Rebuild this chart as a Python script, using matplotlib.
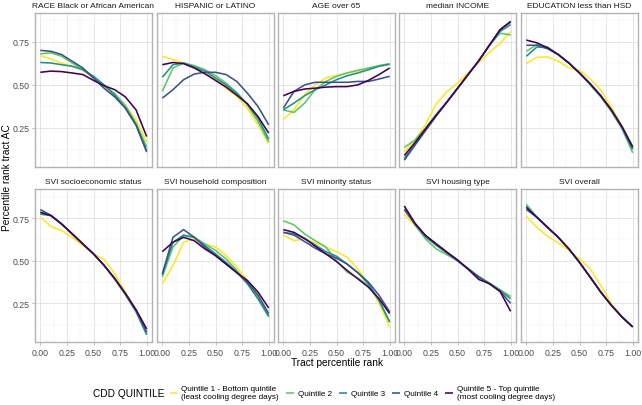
import matplotlib
matplotlib.use('Agg')
import matplotlib.pyplot as plt
from matplotlib.ticker import MultipleLocator

plt.rcParams['font.family'] = ['Liberation Sans', 'DejaVu Sans']

# tract percentile rank where each smoothed curve was read
x = [0.0, 0.1, 0.2, 0.3, 0.4, 0.5, 0.6, 0.7, 0.8, 0.9, 1.0]

quintiles = ['Quintile 1 - Bottom quintile\n(least cooling degree days)',
             'Quintile 2', 'Quintile 3', 'Quintile 4',
             'Quintile 5 - Top quintile\n(most cooling degree days)']
colors = ['#FDE725', '#5DC863', '#21908C', '#3B528B', '#440154']

titles = ['RACE Black or African American', 'HISPANIC or LATINO', 'AGE over 65',
          'median INCOME', 'EDUCATION less than HSD',
          'SVI socioeconomic status', 'SVI household composition',
          'SVI minority status', 'SVI housing type', 'SVI overall']

# each panel: one list per quintile (Q1 .. Q5)
race = [
    [0.67, 0.65, 0.627, 0.608, 0.585, 0.54, 0.49, 0.44, 0.38, 0.297, 0.17],
    [0.68, 0.686, 0.666, 0.627, 0.588, 0.54, 0.495, 0.45, 0.38, 0.277, 0.14],
    [0.63, 0.627, 0.617, 0.608, 0.588, 0.55, 0.50, 0.44, 0.365, 0.267, 0.12],
    [0.70, 0.695, 0.676, 0.637, 0.598, 0.54, 0.48, 0.43, 0.365, 0.267, 0.11],
    [0.573, 0.58, 0.577, 0.569, 0.56, 0.526, 0.495, 0.472, 0.43, 0.355, 0.20],
]
hispanic = [
    [0.666, 0.647, 0.627, 0.598, 0.565, 0.53, 0.48, 0.433, 0.365, 0.267, 0.16],
    [0.462, 0.598, 0.627, 0.612, 0.588, 0.554, 0.51, 0.456, 0.384, 0.287, 0.17],
    [0.544, 0.617, 0.627, 0.604, 0.58, 0.54, 0.50, 0.45, 0.39, 0.306, 0.185],
    [0.423, 0.472, 0.53, 0.563, 0.573, 0.573, 0.56, 0.52, 0.452, 0.374, 0.268],
    [0.617, 0.63, 0.623, 0.598, 0.565, 0.526, 0.487, 0.44, 0.39, 0.316, 0.22],
]
age = [
    [0.30, 0.355, 0.443, 0.50, 0.54, 0.553, 0.569, 0.579, 0.592, 0.608, 0.617],
    [0.355, 0.34, 0.394, 0.472, 0.52, 0.55, 0.569, 0.585, 0.598, 0.612, 0.623],
    [0.355, 0.394, 0.437, 0.472, 0.50, 0.53, 0.553, 0.569, 0.588, 0.608, 0.62],
    [0.365, 0.462, 0.50, 0.515, 0.515, 0.515, 0.515, 0.52, 0.52, 0.534, 0.55],
    [0.437, 0.462, 0.476, 0.481, 0.487, 0.49, 0.49, 0.50, 0.526, 0.56, 0.598],
]
income = [
    [0.11, 0.18, 0.27, 0.39, 0.46, 0.51, 0.57, 0.63, 0.69, 0.74, 0.81],
    [0.137, 0.18, 0.25, 0.33, 0.40, 0.48, 0.56, 0.64, 0.73, 0.80, 0.79],
    [0.073, 0.155, 0.24, 0.32, 0.40, 0.48, 0.56, 0.64, 0.73, 0.81, 0.85],
    [0.063, 0.15, 0.235, 0.32, 0.40, 0.48, 0.56, 0.64, 0.73, 0.82, 0.87],
    [0.09, 0.165, 0.245, 0.325, 0.40, 0.48, 0.56, 0.64, 0.73, 0.82, 0.865],
]
education = [
    [0.623, 0.66, 0.662, 0.637, 0.60, 0.585, 0.535, 0.47, 0.37, 0.26, 0.14],
    [0.695, 0.734, 0.72, 0.676, 0.627, 0.569, 0.50, 0.43, 0.345, 0.245, 0.106],
    [0.666, 0.72, 0.715, 0.676, 0.627, 0.569, 0.505, 0.435, 0.35, 0.25, 0.125],
    [0.73, 0.73, 0.71, 0.676, 0.627, 0.569, 0.507, 0.437, 0.355, 0.255, 0.135],
    [0.76, 0.744, 0.715, 0.676, 0.627, 0.569, 0.507, 0.437, 0.355, 0.258, 0.141],
]
socioeconomic = [
    [0.754, 0.70, 0.676, 0.637, 0.588, 0.54, 0.507, 0.423, 0.316, 0.21, 0.093],
    [0.787, 0.764, 0.715, 0.657, 0.598, 0.54, 0.472, 0.39, 0.30, 0.20, 0.067],
    [0.773, 0.764, 0.715, 0.657, 0.598, 0.54, 0.472, 0.394, 0.303, 0.203, 0.067],
    [0.80, 0.766, 0.715, 0.657, 0.598, 0.54, 0.472, 0.394, 0.306, 0.208, 0.083],
    [0.783, 0.764, 0.715, 0.657, 0.598, 0.54, 0.472, 0.396, 0.308, 0.213, 0.10],
]
household = [
    [0.365, 0.472, 0.608, 0.627, 0.598, 0.58, 0.53, 0.462, 0.384, 0.297, 0.18],
    [0.404, 0.58, 0.647, 0.637, 0.598, 0.56, 0.51, 0.443, 0.365, 0.277, 0.17],
    [0.417, 0.608, 0.65, 0.637, 0.588, 0.54, 0.49, 0.433, 0.365, 0.277, 0.176],
    [0.423, 0.637, 0.682, 0.637, 0.58, 0.53, 0.48, 0.43, 0.374, 0.297, 0.19],
    [0.553, 0.608, 0.637, 0.617, 0.569, 0.53, 0.48, 0.43, 0.384, 0.316, 0.223],
]
minority = [
    [0.65, 0.617, 0.627, 0.604, 0.58, 0.553, 0.52, 0.452, 0.365, 0.25, 0.112],
    [0.734, 0.71, 0.657, 0.617, 0.58, 0.50, 0.433, 0.398, 0.355, 0.267, 0.14],
    [0.666, 0.657, 0.63, 0.592, 0.553, 0.526, 0.48, 0.43, 0.365, 0.267, 0.14],
    [0.666, 0.65, 0.612, 0.573, 0.54, 0.515, 0.48, 0.43, 0.374, 0.297, 0.20],
    [0.682, 0.666, 0.63, 0.585, 0.54, 0.495, 0.443, 0.394, 0.345, 0.277, 0.19],
]
housing = [
    [0.773, 0.705, 0.647, 0.598, 0.55, 0.50, 0.452, 0.404, 0.365, 0.325, 0.277],
    [0.82, 0.71, 0.627, 0.569, 0.535, 0.50, 0.455, 0.408, 0.37, 0.33, 0.29],
    [0.80, 0.715, 0.64, 0.59, 0.545, 0.50, 0.452, 0.404, 0.365, 0.325, 0.277],
    [0.80, 0.715, 0.647, 0.598, 0.55, 0.50, 0.452, 0.404, 0.365, 0.32, 0.25],
    [0.82, 0.72, 0.647, 0.598, 0.55, 0.505, 0.45, 0.39, 0.365, 0.32, 0.203],
]
overall = [
    [0.76, 0.695, 0.643, 0.604, 0.56, 0.51, 0.452, 0.355, 0.248, 0.17, 0.112],
    [0.83, 0.754, 0.695, 0.637, 0.569, 0.49, 0.404, 0.316, 0.238, 0.17, 0.112],
    [0.818, 0.754, 0.695, 0.637, 0.569, 0.49, 0.404, 0.316, 0.238, 0.17, 0.112],
    [0.80, 0.754, 0.695, 0.637, 0.569, 0.49, 0.404, 0.316, 0.238, 0.17, 0.112],
    [0.812, 0.754, 0.695, 0.637, 0.569, 0.49, 0.404, 0.316, 0.238, 0.17, 0.112],
]
panels = [race, hispanic, age, income, education,
          socioeconomic, household, minority, housing, overall]

W, H = 642, 406
fig = plt.figure(figsize=(W / 100, H / 100), dpi=100)

col_x = [35, 157, 278, 399, 521]
col_w = 117
row_y = [(13.5, 168), (190, 343)]

handles = []
for i, (title, series) in enumerate(zip(titles, panels)):
    r, c = divmod(i, 5)
    top, bot = row_y[r]
    ax = fig.add_axes([col_x[c] / W, 1 - bot / H, col_w / W, (bot - top) / H])
    for q, ys in enumerate(series):
        ln, = ax.plot(x, ys, color=colors[q], lw=1.15, solid_joinstyle='round',
                      solid_capstyle='butt', label=quintiles[q])
        if i == 0:
            handles.append(ln)
    ax.set_xlim(-0.05, 1.05)
    ax.set_ylim(0.0235, 0.92)
    ax.xaxis.set_major_locator(MultipleLocator(0.25))
    ax.xaxis.set_minor_locator(MultipleLocator(0.125))
    ax.yaxis.set_major_locator(MultipleLocator(0.25))
    ax.yaxis.set_minor_locator(MultipleLocator(0.125))
    ax.grid(which='major', color='#DEDEDE', lw=0.55)
    ax.grid(which='minor', color='#EFEFEF', lw=0.35)
    ax.set_axisbelow(True)
    for s in ax.spines.values():
        s.set_color('#B3B3B3')
        s.set_linewidth(1.0)
    ax.tick_params(which='minor', length=0)
    ax.tick_params(which='major', length=2.5, width=0.6, color='#B3B3B3',
                   labelsize=6.3, labelcolor='#4D4D4D', pad=1.5)
    ax.set_yticks([0.25, 0.5, 0.75])
    ax.set_yticklabels(['0.25', '0.50', '0.75'])
    ax.set_xticks([0, 0.25, 0.5, 0.75, 1.0])
    ax.set_xticklabels(['0.00', '0.25', '0.50', '0.75', '1.00'])
    if c != 0:
        ax.tick_params(axis='y', left=False, labelleft=False)
    if r == 0:
        ax.tick_params(axis='x', bottom=False, labelbottom=False)
    ax.set_title(title, fontsize=6.0, color='#1A1A1A', pad=4)

fig.text(7 / W, 1 - 178 / H, 'Percentile rank tract AC', rotation=90,
         ha='center', va='center', fontsize=7.3)
fig.text(337 / W, 1 - 363 / H, 'Tract percentile rank', ha='center',
         va='center', fontsize=7.3)
fig.text(93 / W, 1 - 394 / H, 'CDD QUINTILE', ha='left', va='center',
         fontsize=7.3)
fig.legend(handles, quintiles, loc='center left',
           bbox_to_anchor=(170 / W, 1 - 394 / H), ncol=5, frameon=False,
           fontsize=5.9, handlelength=0.9, handletextpad=0.5,
           columnspacing=0.9, borderaxespad=0, borderpad=0)

fig.savefig('out.png', dpi=100)
